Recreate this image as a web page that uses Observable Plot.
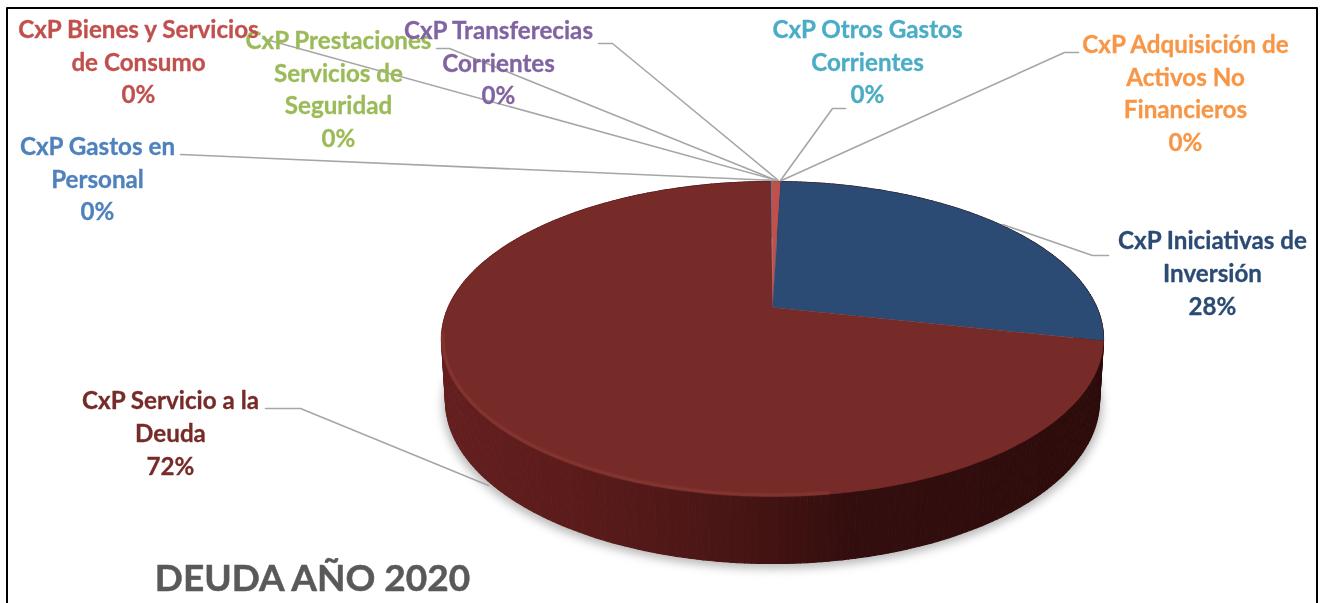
<!DOCTYPE html>
<html>
<head>
<meta charset="utf-8">
<script src="https://cdn.jsdelivr.net/npm/d3@7"></script>
<script src="https://cdn.jsdelivr.net/npm/@observablehq/plot@0.6"></script>
<style>html,body{margin:0;padding:0;background:#fff}svg{display:block}</style>
</head>
<body>
<div id="chart"></div>
<script>
// Data
const names = [
  "CxP Gastos en\nPersonal",
  "CxP Prestaciones\nServicios de\nSeguridad",
  "CxP Transferecias\nCorrientes",
  "CxP Otros Gastos\nCorrientes",
  "CxP Adquisición de\nActivos No\nFinancieros",
  "CxP Bienes y Servicios\nde Consumo",
  "CxP Iniciativas de\nInversión",
  "CxP Servicio a la\nDeuda"
];
const values = [0.01, 0.01, 0.06, 0.01, 0.01, 0.49, 27.9, 71.51];
const colors = ["#4F81BD", "#9BBB59", "#8064A2", "#4BACC6", "#F79646", "#C0504D", "#2B4B75", "#772B28"];
const chartTitle = "DEUDA AÑO 2020";

// Layout
const labelX = [97, 338, 498, 867, 1185, 138, 1212, 170];
const labelY = [176.5, 87, 60.5, 59.5, 91, 59.5, 271, 431];
const leaderX = [[180, 775], [436, 449, 776], [598, 612, 778], [845, 832, 780], [1078, 1064, 781], [262, 777], [1108, 1092, 1002], [265, 300, 488]];
const leaderY = [[154, 180], [48, 48, 180], [43, 43, 180], [108, 108, 180], [52, 52, 180], [38, 180], [255, 255, 224], [408, 408, 485]];

// Pie geometry: unit circle seen in perspective
const cx = 772, apexY = 307, persp = -0.2, yGain = 89.8, radX = 324.3;
const project = a => {
  const u = Math.sin(a), v = -Math.cos(a), d = 1 + persp * v;
  return {x: cx + radX * u / d, y: (yGain * v + apexY) / d};
};
const toBottom = p => ({x: cx + (p.x - cx) * 0.988, y: 400 + (p.y - 338.5) * 163 / 157.5});

const total = d3.sum(values);
const start = -2 * Math.PI * d3.sum(values.slice(0, 5)) / total;
const arcs = d3.pie().sort(null).startAngle(start).endAngle(start + 2 * Math.PI)(values);

const slices = arcs.flatMap((arc, i) => {
  const steps = Math.max(2, Math.ceil((arc.endAngle - arc.startAngle) * 60));
  const rim = d3.range(steps + 1).map(k => project(arc.startAngle + (arc.endAngle - arc.startAngle) * k / steps));
  return [{x: cx, y: apexY}, ...rim].map(p => ({...p, key: i, fill: colors[i]}));
});

const sideStops = d3.scaleLinear()
  .domain([441, 560, 700, 770, 850, 1104])
  .range(["#641F1F", "#5C1C1B", "#4C1716", "#421312", "#330E0E", "#2E0C0C"]);
const sideCount = 360;
const side = d3.range(sideCount).flatMap(k => {
  const a0 = 2 * Math.PI * k / sideCount, a1 = 2 * Math.PI * (k + 1) / sideCount;
  const p0 = project(a0), p1 = project(a1);
  const col = d3.color(sideStops((p0.x + p1.x) / 2)).formatHex();
  return [p0, p1, toBottom(p1), toBottom(p0)].map(p => ({...p, key: k, fill: col}));
});
const ringAngles = d3.range(0, 361, 2).map(d => d * Math.PI / 180);
const shadow = ringAngles.map(a => {
  const p = toBottom(project(a));
  return {x: cx + (p.x - cx) * 1.008, y: p.y + 5};
});
const frontRim = d3.range(172, 262, 2).map(d => {
  const p = project(d * Math.PI / 180);
  return {x: cx + (p.x - cx) * 0.997, y: p.y - 1.5};
});

const leaders = leaderX.flatMap((xs, i) => xs.map((x, j) => ({x, y: leaderY[i][j], key: i})));
const frame = [{x: 6.5, y: 603}, {x: 6.5, y: 7.5}, {x: 1316.5, y: 7.5}, {x: 1316.5, y: 603}];

const labels = names.map((n, i) => ({
  text: `${n}\n${Math.round(values[i] / total * 100)}%`,
  x: labelX[i], y: labelY[i], color: colors[i]
}));

const plot = Plot.plot({
  width: 1324, height: 603,
  marginTop: 0, marginRight: 0, marginBottom: 0, marginLeft: 0,
  x: {domain: [0, 1324], range: [0, 1324], axis: null},
  y: {domain: [0, 603], range: [0, 603], axis: null},
  style: {background: "#fff"},
  marks: [
    Plot.line(frame, {x: "x", y: "y", stroke: "#000", strokeWidth: 2, curve: "linear"}),
    Plot.line(shadow, {x: "x", y: "y", fill: "#b8b8b8", stroke: "none", imageFilter: "blur(5px)"}),
    Plot.line(side, {x: "x", y: "y", z: "key", fill: "fill", stroke: "fill", strokeWidth: 1.2, imageFilter: "blur(0.7px)"}),
    Plot.line(slices, {x: "x", y: "y", z: "key", fill: "fill", stroke: "fill", strokeWidth: 0.4, imageFilter: "blur(0.4px)"}),
    Plot.line(frontRim, {x: "x", y: "y", stroke: "#93413C", strokeWidth: 2, strokeOpacity: 0.75, imageFilter: "blur(1px)"}),
    Plot.line(leaders, {x: "x", y: "y", z: "key", stroke: "#A6A6A6", strokeWidth: 1.6}),
    Plot.text(labels, {x: "x", y: "y", text: "text", fill: "color", stroke: "color", strokeWidth: 0.3, fontFamily: "Lato", fontWeight: 700, fontSize: 24.2, lineHeight: 1.36, textAnchor: "middle", lineAnchor: "middle", imageFilter: "blur(0.3px)"}),
    Plot.text([chartTitle], {x: [312], y: [579], text: d => d, fill: "#595959", stroke: "#595959", strokeWidth: 0.5, fontFamily: "Lato", fontWeight: 700, fontSize: 37, textAnchor: "middle", lineAnchor: "middle", imageFilter: "blur(0.3px)"})
  ]
});
document.getElementById("chart").append(plot);
</script>
</body>
</html>
